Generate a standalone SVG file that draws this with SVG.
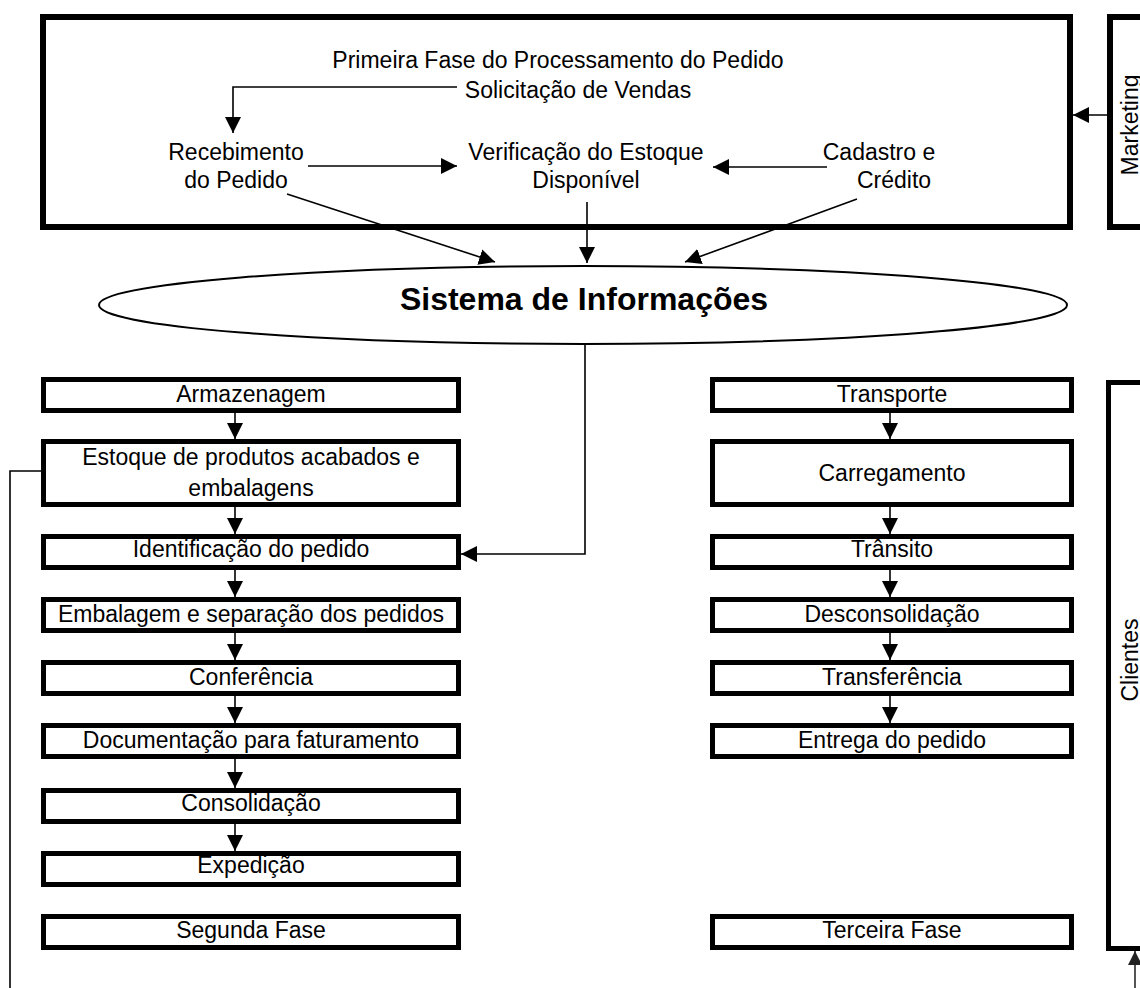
<svg xmlns="http://www.w3.org/2000/svg" width="1140" height="988" viewBox="0 0 1140 988">
<style>
  text { font-family: "Liberation Sans", Arial, sans-serif; font-size: 23px; fill: #000; }
  .c { text-anchor: middle; }
  .box { fill: #fff; stroke: #000; stroke-width: 5; }
  .big { fill: #fff; stroke: #000; stroke-width: 6; }
  .ln { fill: none; stroke: #000; stroke-width: 1.6; }
  .gl { fill: none; stroke: #555; stroke-width: 2; }
  .title { font-weight: bold; font-size: 32px; }
</style>
<defs>
  <marker id="arr" viewBox="0 0 16 16" refX="16" refY="8" markerWidth="16" markerHeight="16" markerUnits="userSpaceOnUse" orient="auto">
    <path d="M0,0 L16,8 L0,16 z" fill="#000"/>
  </marker>
  <marker id="arrg" viewBox="0 0 16 16" refX="16" refY="8" markerWidth="14" markerHeight="14" markerUnits="userSpaceOnUse" orient="auto">
    <path d="M0,0 L16,8 L0,16 z" fill="#222"/>
  </marker>
</defs>
<rect width="1140" height="988" fill="#fff"/>

<g id="fase1">
  <rect class="big" x="43" y="17" width="1027" height="210"/>
  <text class="c" x="558" y="68">Primeira Fase do Processamento do Pedido</text>
  <text class="c" x="578" y="98">Solicitação de Vendas</text>
</g>
<g id="recebimento">
  <text class="c" x="236" y="160">Recebimento</text>
  <text class="c" x="236" y="188">do Pedido</text>
</g>
<g id="verificacao">
  <text class="c" x="586" y="160">Verificação do Estoque</text>
  <text class="c" x="586" y="188">Disponível</text>
</g>
<g id="cadastro">
  <text class="c" x="879" y="160">Cadastro e</text>
  <text class="c" x="894" y="188">Crédito</text>
</g>
<g id="marketing">
  <rect class="big" x="1110" y="17" width="100" height="210"/>
  <text class="c" transform="translate(1138,125) rotate(-90)">Marketing</text>
</g>
<g id="sistema">
  <ellipse cx="583" cy="305" rx="484" ry="39" fill="#fff" stroke="#000" stroke-width="2"/>
  <text class="c title" x="584" y="310">Sistema de Informações</text>
</g>

<g id="armazenagem"><rect class="box" x="43.5" y="379.5" width="415" height="31"/><text class="c" x="251" y="402">Armazenagem</text></g>
<g id="estoque"><rect class="box" x="43.5" y="441.5" width="415" height="63"/><text class="c" x="251" y="465">Estoque de produtos acabados e</text><text class="c" x="251" y="496">embalagens</text></g>
<g id="identificacao"><rect class="box" x="43.5" y="536.5" width="415" height="31"/><text class="c" x="251" y="557">Identificação do pedido</text></g>
<g id="embalagem"><rect class="box" x="43.5" y="599.5" width="415" height="31"/><text class="c" x="251" y="622">Embalagem e separação dos pedidos</text></g>
<g id="conferencia"><rect class="box" x="43.5" y="662.5" width="415" height="31"/><text class="c" x="251" y="685">Conferência</text></g>
<g id="documentacao"><rect class="box" x="43.5" y="725.5" width="415" height="31"/><text class="c" x="251" y="748">Documentação para faturamento</text></g>
<g id="consolidacao"><rect class="box" x="43.5" y="790.5" width="415" height="31"/><text class="c" x="251" y="811">Consolidação</text></g>
<g id="expedicao"><rect class="box" x="43.5" y="853.5" width="415" height="31"/><text class="c" x="251" y="873">Expedição</text></g>
<g id="segunda"><rect class="box" x="43.5" y="916.5" width="415" height="31"/><text class="c" x="251" y="938">Segunda Fase</text></g>

<g id="transporte"><rect class="box" x="712.5" y="379.5" width="359" height="31"/><text class="c" x="892" y="402">Transporte</text></g>
<g id="carregamento"><rect class="box" x="712.5" y="441.5" width="359" height="63"/><text class="c" x="892" y="481">Carregamento</text></g>
<g id="transito"><rect class="box" x="712.5" y="536.5" width="359" height="31"/><text class="c" x="892" y="557">Trânsito</text></g>
<g id="desconsolidacao"><rect class="box" x="712.5" y="599.5" width="359" height="31"/><text class="c" x="892" y="622">Desconsolidação</text></g>
<g id="transferencia"><rect class="box" x="712.5" y="662.5" width="359" height="31"/><text class="c" x="892" y="685">Transferência</text></g>
<g id="entrega"><rect class="box" x="712.5" y="725.5" width="359" height="31"/><text class="c" x="892" y="748">Entrega do pedido</text></g>
<g id="terceira"><rect class="box" x="712.5" y="916.5" width="359" height="31"/><text class="c" x="892" y="938">Terceira Fase</text></g>

<g id="clientes">
  <rect class="box" x="1108.5" y="382.5" width="100" height="566"/>
  <text class="c" transform="translate(1138,660) rotate(-90)">Clientes</text>
</g>

<g id="connectors">
  <path class="ln" d="M457,87 H233 V133" marker-end="url(#arr)"/>
  <path class="ln" d="M308,166 H457" marker-end="url(#arr)"/>
  <path class="ln" d="M827,167 H713" marker-end="url(#arr)"/>
  <path class="ln" d="M1107,115 H1073" marker-end="url(#arr)"/>
  <path class="ln" d="M287,194 L495,262" marker-end="url(#arr)"/>
  <path class="ln" d="M587,202 V263" marker-end="url(#arr)"/>
  <path class="ln" d="M857,199 L685,262" marker-end="url(#arr)"/>
  <path class="ln" d="M585,344 V554 H461" marker-end="url(#arr)"/>
  <path class="ln" d="M41,471 H10 V988"/>
  <path class="gl" d="M1135,988 V951" marker-end="url(#arrg)"/>

  <path class="ln" d="M235,413 V439" marker-end="url(#arr)"/>
  <path class="ln" d="M235,507 V534" marker-end="url(#arr)"/>
  <path class="ln" d="M235,570 V597" marker-end="url(#arr)"/>
  <path class="ln" d="M235,633 V660" marker-end="url(#arr)"/>
  <path class="ln" d="M235,696 V723" marker-end="url(#arr)"/>
  <path class="ln" d="M235,759 V788" marker-end="url(#arr)"/>
  <path class="ln" d="M235,824 V851" marker-end="url(#arr)"/>

  <path class="ln" d="M890,413 V439" marker-end="url(#arr)"/>
  <path class="ln" d="M890,507 V534" marker-end="url(#arr)"/>
  <path class="ln" d="M890,570 V597" marker-end="url(#arr)"/>
  <path class="ln" d="M890,633 V660" marker-end="url(#arr)"/>
  <path class="ln" d="M890,696 V723" marker-end="url(#arr)"/>
</g>
</svg>
